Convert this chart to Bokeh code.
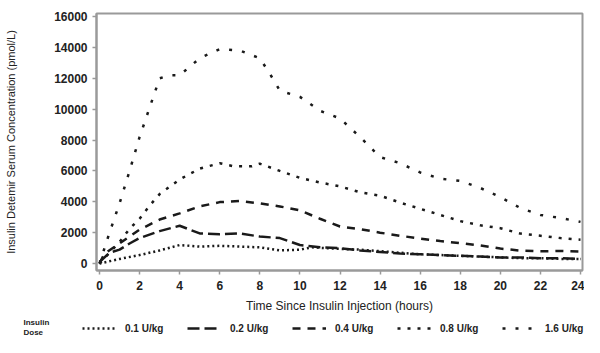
from bokeh.plotting import figure
from bokeh.models import Legend, LegendItem, Label, FixedTicker, Range1d
from bokeh.layouts import column, row
from bokeh.embed import file_html
from bokeh.resources import INLINE

# ---- data ----
dose_labels = ["0.1 U/kg", "0.2 U/kg", "0.4 U/kg", "0.8 U/kg", "1.6 U/kg"]

t_01 = [0, 1, 2, 3, 4, 5, 6, 7, 8, 9, 10, 10.6, 12, 13, 14, 15, 16, 17, 18, 19, 20, 21, 22, 23, 24]
c_01 = [0, 300, 550, 850, 1200, 1100, 1150, 1100, 1050, 850, 900, 1050, 950, 900, 800, 700, 600, 550, 500, 450, 400, 350, 350, 300, 300]

t_02 = [0, 0.5, 1, 1.5, 2, 3, 4, 4.5, 5, 6, 7, 8, 9, 10, 11, 12, 13, 14, 15, 16, 17, 18, 19, 20, 21, 22, 23, 24]
c_02 = [100, 700, 900, 1300, 1650, 2100, 2450, 2200, 1950, 1900, 1950, 1750, 1650, 1200, 1050, 1000, 850, 750, 650, 600, 550, 500, 450, 400, 400, 350, 350, 300]

t_04 = [0, 0.25, 1, 2, 3, 4, 5, 6, 7, 8, 9, 10, 11, 12, 13, 14, 15, 16, 17, 18, 19, 20, 21, 22, 23, 24]
c_04 = [0, 650, 1300, 2200, 2850, 3250, 3700, 3980, 4050, 3900, 3700, 3450, 2900, 2400, 2230, 2000, 1800, 1620, 1460, 1320, 1170, 970, 840, 790, 820, 780]

t_08 = [0, 0.5, 1, 1.5, 2, 2.5, 3, 4, 5, 6, 6.7, 7.6, 8, 9, 10, 11, 12, 13, 14, 15, 16, 17, 18, 19, 20, 21, 22, 23, 24]
c_08 = [0, 700, 1400, 2250, 2900, 3750, 4500, 5450, 6150, 6500, 6300, 6300, 6470, 6000, 5550, 5250, 5000, 4620, 4400, 3950, 3550, 3150, 2750, 2480, 2290, 1940, 1800, 1650, 1550]

t_16 = [0, 0.5, 1, 1.5, 2, 2.5, 3, 3.5, 4, 5, 6, 7, 8, 8.5, 9, 10, 11, 12, 13, 14, 15, 16, 17, 18, 19, 20, 21, 22, 23, 24]
c_16 = [0, 2000, 3900, 6000, 8200, 10100, 12000, 12200, 12200, 13300, 13900, 13800, 13300, 12300, 11200, 10800, 9900, 9400, 8200, 6900, 6500, 5900, 5500, 5350, 4900, 4300, 3600, 3150, 2950, 2700]

x_ticks = list(range(0, 25, 2))
y_ticks = list(range(0, 16001, 2000))

series = [
    (t_01, c_01, "2 3"),
    (t_02, c_02, "12 5"),
    (t_04, c_04, "8 7"),
    (t_08, c_08, "3 7"),
    (t_16, c_16, "3 10"),
]

FONT = "Liberation Sans"
INK = "#1a1a1a"

p = figure(width=584, height=316, output_backend="svg", toolbar_location=None,
           x_range=Range1d(-0.15, 24.1), y_range=Range1d(-450, 16200),
           min_border_left=96, min_border_right=2, min_border_top=13, min_border_bottom=46)

p.xgrid.visible = False
p.ygrid.visible = False
p.outline_line_color = "#9a9a9a"
p.outline_line_width = 2

for (t, c, dash) in series:
    p.line(t, c, line_color=INK, line_width=2.5, line_dash=dash, line_cap="butt")

for ax in (p.xaxis[0], p.yaxis[0]):
    ax.axis_line_color = "#9a9a9a"
    ax.axis_line_width = 2
    ax.major_tick_line_color = "#9a9a9a"
    ax.major_tick_line_width = 1.5
    ax.major_tick_out = 4
    ax.major_tick_in = 0
    ax.minor_tick_line_color = None
    ax.major_label_text_font = FONT
    ax.major_label_text_font_size = "12px"
    ax.major_label_text_font_style = "bold"
    ax.major_label_text_color = "#222222"
    ax.axis_label_text_font = FONT
    ax.axis_label_text_font_size = "12px"
    ax.axis_label_text_font_style = "normal"
    ax.axis_label_text_color = "#222222"

p.xaxis.ticker = FixedTicker(ticks=x_ticks)
p.yaxis.ticker = FixedTicker(ticks=y_ticks)
p.xaxis.axis_label = "Time Since Insulin Injection (hours)"
p.yaxis.axis_label = "Insulin Detemir Serum Concentration (pmol/L)"
p.yaxis.axis_label_text_font_size = "11px"
p.xaxis.major_label_standoff = 6
p.yaxis.major_label_standoff = 5
p.xaxis.axis_label_standoff = 6
p.yaxis.axis_label_standoff = 34

# ---- legend strip below the chart ----
lg = figure(width=584, height=21, output_backend="svg", toolbar_location=None,
            x_range=Range1d(0, 1), y_range=Range1d(0, 1),
            x_axis_type=None, y_axis_type=None,
            min_border_left=0, min_border_right=0, min_border_top=0, min_border_bottom=0)
lg.xgrid.visible = False
lg.ygrid.visible = False
lg.outline_line_color = None

nan = float("nan")
items = []
for (t, c, dash), lab in zip(series, dose_labels):
    r = lg.line([nan], [nan], line_color=INK, line_width=2.5, line_dash=dash, line_cap="butt")
    items.append(LegendItem(label=lab, renderers=[r]))

legend = Legend(items=items, orientation="horizontal", location=(82, 2),
                border_line_color=None, background_fill_alpha=0,
                glyph_width=34, glyph_height=14, label_standoff=9, label_width=55,
                spacing=7, padding=0, margin=0,
                label_text_font=FONT, label_text_font_size="10px",
                label_text_font_style="bold", label_text_color="#222222")
lg.add_layout(legend)

lbl = Label(x=23, y=10, x_units="screen", y_units="screen", text="Insulin\nDose",
            text_font=FONT, text_font_size="8px", text_font_style="bold",
            text_color="#222222", text_align="left", text_baseline="middle")
lg.add_layout(lbl)

layout = column(p, row(lg), spacing=0)
open("out.html", "w").write(file_html(layout, INLINE))
